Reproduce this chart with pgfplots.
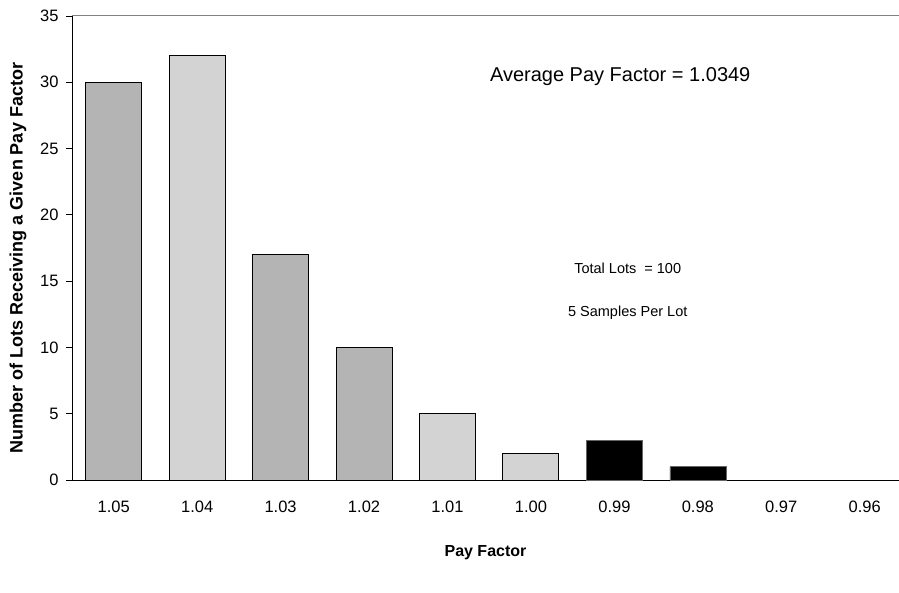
\documentclass[border=0pt]{standalone}
\usepackage{pgfplots}
\pgfplotsset{compat=1.18}
\usepackage{fontspec}
\setmainfont{Liberation Sans}
\definecolor{darkbar}{HTML}{B4B4B4}
\definecolor{lightbar}{HTML}{D3D3D3}
\begin{document}
\begin{tikzpicture}[x=1pt,y=1pt]
\path[use as bounding box] (-72pt,-112pt) rectangle (827pt,480pt);
\begin{axis}[
  at={(0pt,0pt)}, anchor=south west,
  scale only axis, width=827pt, height=464pt,
  xmin=-0.5, xmax=9.411, ymin=0, ymax=35,
  axis x line*=bottom, axis y line*=left,
  axis line style={-, black, line width=0.9pt},
  ytick={0,5,...,35},
  xtick={0,...,9},
  xticklabels={1.05,1.04,1.03,1.02,1.01,1.00,0.99,0.98,0.97,0.96},
  major x tick style={draw=none},
  extra x ticks={-0.5,0.5,...,8.5},
  extra x tick labels={},
  extra x tick style={major tick length=6pt, tick style={black, line width=0.9pt}, tick align=outside},
  ytick align=outside,
  major tick length=6pt,
  tick style={black, line width=0.9pt},
  xticklabel style={font=\fontsize{16.5}{19}\selectfont, yshift=-11pt},
  yticklabel style={font=\fontsize{16.5}{19}\selectfont, xshift=-4pt},
  /pgf/number format/assume math mode=true,
  xlabel={\textbf{Pay Factor}},
  ylabel={\textbf{Number of Lots Receiving a Given Pay Factor}},
  every axis x label/.style={at={(axis description cs:0.5,0)}, anchor=center, yshift=-73pt, font=\fontsize{16}{19}\selectfont},
  every axis y label/.style={at={(axis description cs:0,0.5)}, xshift=-54pt, yshift=-10pt, anchor=center, rotate=90, font=\fontsize{18}{21}\selectfont},
  ybar, bar width=56pt, bar shift=0pt,
  clip=false,
]
\addplot[fill=darkbar, draw=black, line width=1pt] coordinates {(0,30) (2,17) (3,10)};
\addplot[fill=lightbar, draw=black, line width=1pt] coordinates {(1,32) (4,5) (5,2)};
\addplot[fill=black, draw=black!60, line width=0.6pt] coordinates {(6,3) (7,1)};
\draw[gray, line width=1pt] (rel axis cs:0,1) -- (rel axis cs:1,1);
\node[font=\fontsize{20}{24}\selectfont] at (axis cs:6.07,30.4) {Average Pay Factor = 1.0349};
\node[font=\fontsize{14.5}{17}\selectfont] at (axis cs:6.16,16.0) {Total Lots \ = 100};
\node[font=\fontsize{14.5}{17}\selectfont] at (axis cs:6.16,12.6) {5 Samples Per Lot};
\end{axis}
\end{tikzpicture}
\end{document}
